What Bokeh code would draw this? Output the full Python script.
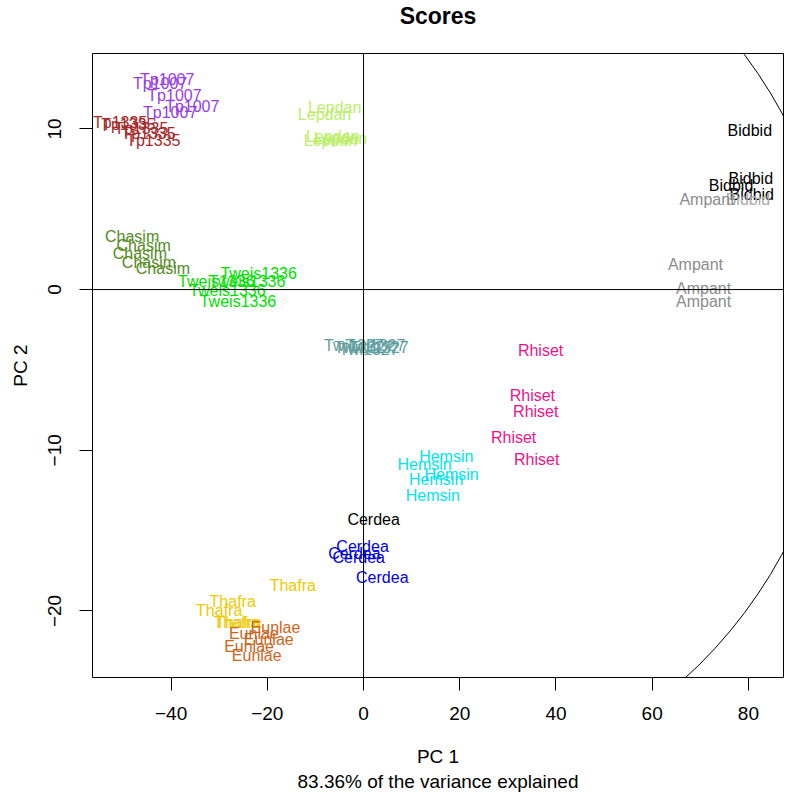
from bokeh.plotting import figure
from bokeh.models import ColumnDataSource, Span, FixedTicker, Title, Range1d
from bokeh.core.properties import value
from bokeh.embed import file_html
from bokeh.resources import INLINE

FONT = "Liberation Sans"

# ---- data ----
sample_label = (["Tp1007"] * 5 + ["Tp1335"] * 5 + ["Lepdan"] * 5 + ["Bidbid"] * 5 +
                ["Ampant"] * 4 + ["Chasim"] * 5 + ["Tweis1336"] * 5 + ["Twi1327"] * 5 +
                ["Rhiset"] * 5 + ["Hemsin"] * 5 + ["Cerdea"] * 5 + ["Thafra"] * 5 +
                ["Eunlae"] * 5)
sample_pc1 = [-40.8, -42.3, -39.3, -35.6, -40.2,
              -50.6, -48.9, -46.2, -44.7, -43.7,
              -6.0, -8.1, -6.4, -4.8, -6.9,
              80.3, 80.5, 76.4, 80.7, 79.9,
              71.4, 69.0, 70.7, 70.7,
              -48.1, -45.7, -46.5, -44.6, -41.7,
              -21.8, -30.6, -24.2, -28.3, -26.1,
              -2.0, 0.1, 1.1, 2.5, 3.2,
              36.8, 35.1, 35.8, 31.2, 36.0,
              17.2, 12.7, 18.3, 15.1, 14.4,
              2.1, -0.2, -1.9, -1.0, 3.9,
              -14.7, -27.2, -30.0, -26.4, -26.0,
              -18.3, -22.8, -19.7, -23.8, -22.2]
sample_pc2 = [13.1, 12.8, 12.1, 11.4, 11.0,
              10.4, 10.3, 10.0, 9.7, 9.3,
              11.3, 10.9, 9.5, 9.4, 9.3,
              9.9, 6.9, 6.5, 5.9, 5.6,
              5.6, 1.56, 0.04, -0.73,
              3.30, 2.74, 2.22, 1.70, 1.29,
              0.98, 0.52, 0.52, -0.06, -0.75,
              -3.5, -3.6, -3.7, -3.5, -3.6,
              -3.8, -6.6, -7.6, -9.2, -10.6,
              -10.4, -10.9, -11.5, -11.8, -12.8,
              -14.3, -16.0, -16.4, -16.7, -17.9,
              -18.4, -19.4, -20.0, -20.7, -20.7,
              -21.0, -21.4, -21.8, -22.2, -22.8]
# colour key per sample (mostly its group; two samples drawn in another colour)
sample_colour_key = (["Tp1007"] * 5 + ["Tp1335"] * 5 + ["Lepdan"] * 5 +
                     ["Bidbid"] * 4 + ["Bidbid_grey"] + ["Ampant"] * 4 +
                     ["Chasim"] * 5 + ["Tweis1336"] * 5 + ["Twi1327"] * 5 +
                     ["Rhiset"] * 5 + ["Hemsin"] * 5 + ["Cerdea_black"] + ["Cerdea"] * 4 +
                     ["Thafra"] * 5 + ["Eunlae"] * 5)

x_ticks = [-40, -20, 0, 20, 40, 60, 80]
x_tick_labels = ["\u221240", "\u221220", "0", "20", "40", "60", "80"]
y_ticks = [-20, -10, 0, 10]
y_tick_labels = ["\u221220", "\u221210", "0", "10"]

x_limits = (-56.34, 87.3)
y_limits = (-24.14, 14.69)

# confidence ellipse (centre and semi-axes in PC units)
ellipse_centre = (0.0, -2.75)
ellipse_semi_axes = (98.6, 29.15)

title_text = "Scores"
x_label = "PC 1"
x_sub_label = "83.36% of the variance explained"
y_label = "PC 2"

# ---- styles ----
palette = {
    "Tp1007": "#9A3CE6", "Tp1335": "#A52A2A", "Lepdan": "#BCEE68",
    "Bidbid": "#000000", "Bidbid_grey": "#ABABAB", "Ampant": "#8C8C8C",
    "Chasim": "#558B1F", "Tweis1336": "#00E000", "Twi1327": "#5F9EA0",
    "Rhiset": "#EE1289", "Hemsin": "#00E5EE", "Cerdea": "#0000E8",
    "Cerdea_black": "#000000", "Thafra": "#EEC900", "Eunlae": "#CD661D",
}

src = ColumnDataSource(dict(
    x=sample_pc1, y=sample_pc2, label=sample_label,
    colour=[palette[k] for k in sample_colour_key],
))

p = figure(width=785, height=798, output_backend="svg", toolbar_location=None,
           x_range=Range1d(*x_limits), y_range=Range1d(*y_limits),
           min_border_left=92, min_border_right=2, min_border_top=53, min_border_bottom=121)
p.grid.visible = False
p.outline_line_color = "black"
p.outline_line_width = 1
p.background_fill_color = "white"
p.border_fill_color = "white"

# title: a small blank spacer next to the frame, then the title above it
spacer = Title(text=" ", text_font=FONT, text_font_size="10px", standoff=9,
               text_color="white")
main_title = Title(text=title_text, align="center", vertical_align="top", standoff=2,
                   text_font=FONT, text_font_size="23px", text_font_style="bold",
                   text_color="black")
p.add_layout(spacer, "above")
p.add_layout(main_title, "above")

# axes
for ax, ticks, labels in ((p.xaxis[0], x_ticks, x_tick_labels), (p.yaxis[0], y_ticks, y_tick_labels)):
    ax.ticker = FixedTicker(ticks=ticks, minor_ticks=[])
    ax.major_label_overrides = {t: l for t, l in zip(ticks, labels)}
    ax.axis_line_color = None
    ax.major_tick_in = 0
    ax.major_tick_out = 13
    ax.major_tick_line_color = "black"
    ax.minor_tick_in = 0
    ax.minor_tick_out = 0
    ax.major_label_text_font = FONT
    ax.major_label_text_font_size = "19px"
    ax.major_label_text_color = "black"
    ax.axis_label_text_font = FONT
    ax.axis_label_text_font_size = "19px"
    ax.axis_label_text_font_style = "normal"
    ax.axis_label_text_color = "black"

p.xaxis.axis_label = x_label
p.xaxis.major_label_standoff = 16
p.xaxis.axis_label_standoff = 23
p.yaxis.axis_label = y_label
p.yaxis.major_label_orientation = "vertical"
p.yaxis.major_label_standoff = 18
p.yaxis.axis_label_standoff = 15

sub = Title(text=x_sub_label, align="center", text_font=FONT, text_font_size="19px",
            text_font_style="normal", text_color="black", standoff=-2)
p.add_layout(sub, "below")

# reference lines through the origin
p.add_layout(Span(location=0, dimension="width", line_color="black", line_width=1))
p.add_layout(Span(location=0, dimension="height", line_color="black", line_width=1))

# ellipse
p.ellipse(x=[ellipse_centre[0]], y=[ellipse_centre[1]],
          width=[2 * ellipse_semi_axes[0]], height=[2 * ellipse_semi_axes[1]],
          fill_color=None, line_color="black", line_width=1)

# sample labels
p.text(x="x", y="y", text="label", source=src, text_color="colour",
       text_align="center", text_baseline="middle",
       text_font=value(FONT), text_font_size="16px")

open("out.html", "w").write(file_html(p, INLINE))
